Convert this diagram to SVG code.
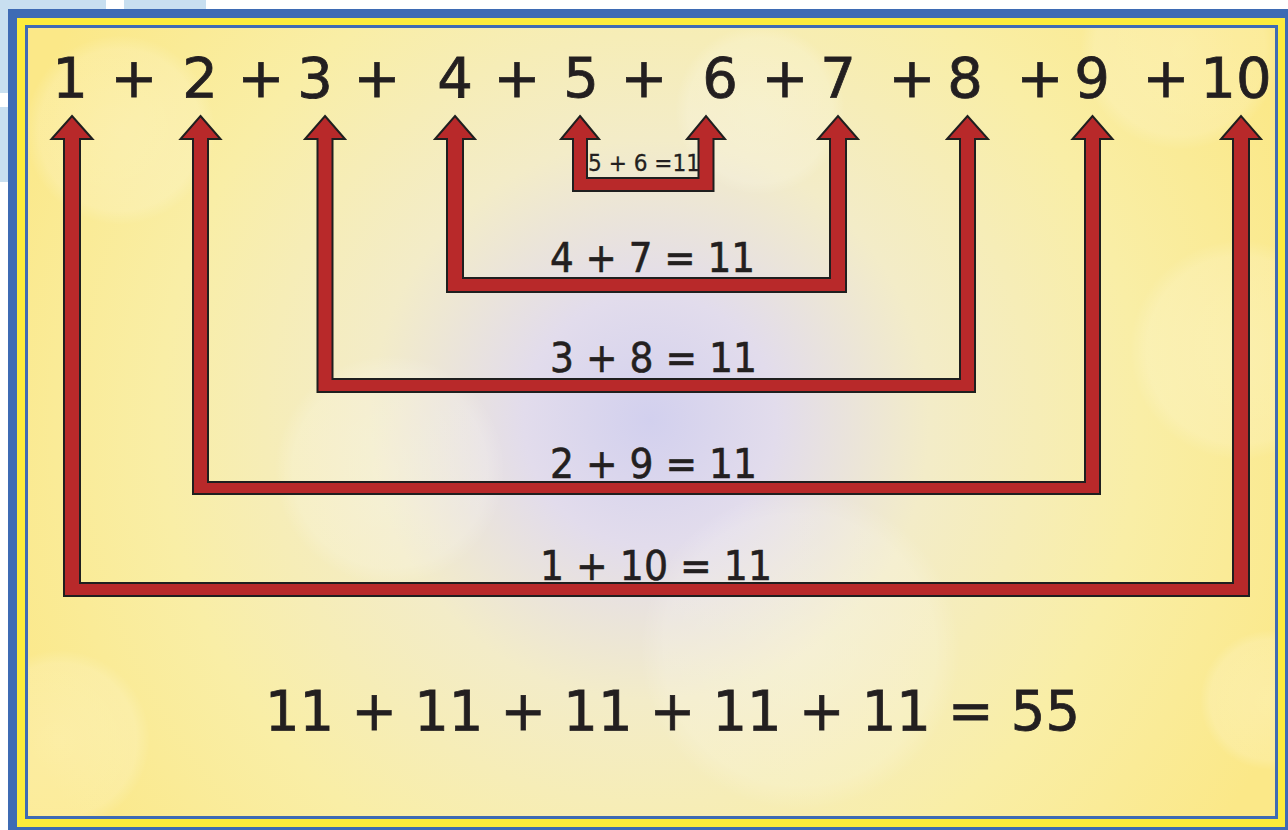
<svg xmlns="http://www.w3.org/2000/svg" width="1288" height="830" viewBox="0 0 1288 830">
<defs>
<radialGradient id="bg" cx="650" cy="420" r="700" gradientUnits="userSpaceOnUse">
<stop offset="0" stop-color="#d2d0ee"/>
<stop offset="0.18" stop-color="#e2dcec"/>
<stop offset="0.4" stop-color="#f3ecc8"/>
<stop offset="0.7" stop-color="#f9eea6"/>
<stop offset="1" stop-color="#fbe888"/>
</radialGradient>
<radialGradient id="bokeh">
<stop offset="0" stop-color="#ffffff" stop-opacity="0.22"/>
<stop offset="0.85" stop-color="#ffffff" stop-opacity="0.16"/>
<stop offset="1" stop-color="#ffffff" stop-opacity="0"/>
</radialGradient>
<clipPath id="inner"><rect x="28" y="28" width="1247" height="788"/></clipPath>
<style>
.num{font-family:"DejaVu Sans","Liberation Sans",sans-serif;font-size:56px;fill:#231f20;stroke:#231f20;stroke-width:0.8;text-anchor:middle}
.lbl{font-family:"DejaVu Sans","Liberation Sans",sans-serif;font-size:40px;fill:#231f20;stroke:#231f20;stroke-width:0.6}
.small{font-family:"DejaVu Sans","Liberation Sans",sans-serif;font-size:23px;fill:#231f20;stroke:#231f20;stroke-width:0.3}
.arrow{fill:#b8292a;stroke:#1f1f1f;stroke-width:2;stroke-linejoin:miter}
</style>
</defs>
<rect x="0" y="0" width="1288" height="830" fill="#ffffff"/>
<rect x="0" y="0" width="106" height="9" fill="#c8dff0"/>
<rect x="124" y="0" width="82" height="9" fill="#c8dff0"/>
<rect x="0" y="0" width="8" height="93" fill="#c8dff0"/>
<rect x="0" y="107" width="8" height="75" fill="#c8dff0"/>
<rect x="8" y="9" width="1280" height="821" fill="#3e6bb4"/>
<rect x="17" y="18" width="1268" height="809" fill="#fcec3c"/>
<rect x="26.5" y="26.5" width="1250" height="791" fill="url(#bg)" stroke="#3e6bb4" stroke-width="3"/>
<g id="background" clip-path="url(#inner)">
<circle cx="120" cy="130" r="95" fill="url(#bokeh)"/>
<circle cx="390" cy="470" r="115" fill="url(#bokeh)"/>
<circle cx="800" cy="650" r="160" fill="url(#bokeh)"/>
<circle cx="1240" cy="350" r="110" fill="url(#bokeh)"/>
<circle cx="1180" cy="50" r="100" fill="url(#bokeh)"/>
<circle cx="60" cy="740" r="90" fill="url(#bokeh)"/>
<circle cx="760" cy="110" r="85" fill="url(#bokeh)"/>
<circle cx="1270" cy="700" r="70" fill="url(#bokeh)"/>
</g>
<g id="top-row">
<text class="num" x="70" y="97">1</text>
<text class="num" x="134" y="97">+</text>
<text class="num" x="200" y="97">2</text>
<text class="num" x="261" y="97">+</text>
<text class="num" x="315" y="97">3</text>
<text class="num" x="377" y="97">+</text>
<text class="num" x="455" y="97">4</text>
<text class="num" x="517" y="97">+</text>
<text class="num" x="581" y="97">5</text>
<text class="num" x="644" y="97">+</text>
<text class="num" x="720" y="97">6</text>
<text class="num" x="785" y="97">+</text>
<text class="num" x="838" y="97">7</text>
<text class="num" x="912" y="97">+</text>
<text class="num" x="965" y="97">8</text>
<text class="num" x="1040" y="97">+</text>
<text class="num" x="1092" y="97">9</text>
<text class="num" x="1166" y="97">+</text>
<text class="num" x="1236" y="97">10</text>
</g>
<g id="connectors">
<path id="pair-1-10" class="arrow" d="M72,116 L92.5,139 L80,139 L80,583 L1233,583 L1233,139 L1221,139 L1241,116 L1261,139 L1249,139 L1249,596 L64,596 L64,139 L51.5,139 Z"/>
<path id="pair-2-9" class="arrow" d="M200.5,116 L220.5,139 L208,139 L208,482 L1085,482 L1085,139 L1072.5,139 L1092.5,116 L1112.5,139 L1100,139 L1100,494 L193,494 L193,139 L180.5,139 Z"/>
<path id="pair-3-8" class="arrow" d="M325,116 L345,139 L332.5,139 L332.5,379 L960,379 L960,139 L947,139 L967.5,116 L988,139 L975,139 L975,392 L317.5,392 L317.5,139 L305,139 Z"/>
<path id="pair-4-7" class="arrow" d="M455,116 L475,139 L463,139 L463,278 L830,278 L830,139 L818,139 L838,116 L858,139 L846,139 L846,292 L447,292 L447,139 L435,139 Z"/>
<path id="pair-5-6" class="arrow" d="M580,116 L599,139 L587,139 L587,178 L698.5,178 L698.5,139 L687,139 L706,116 L725,139 L713.5,139 L713.5,191 L573,191 L573,139 L561,139 Z"/>
</g>
<g id="labels">
<text class="small" x="588" y="171" textLength="112" lengthAdjust="spacingAndGlyphs">5 + 6 =11</text>
<text class="lbl" x="550" y="272" textLength="205" lengthAdjust="spacingAndGlyphs">4 + 7 = 11</text>
<text class="lbl" x="550" y="372" textLength="207" lengthAdjust="spacingAndGlyphs">3 + 8 = 11</text>
<text class="lbl" x="550" y="478" textLength="207" lengthAdjust="spacingAndGlyphs">2 + 9 = 11</text>
<text class="lbl" x="540" y="580" textLength="232" lengthAdjust="spacingAndGlyphs">1 + 10 = 11</text>
</g>
<g id="total">
<text class="num" style="text-anchor:start" x="265" y="730" textLength="815" lengthAdjust="spacingAndGlyphs">11 + 11 + 11 + 11 + 11 = 55</text>
</g>
</svg>
